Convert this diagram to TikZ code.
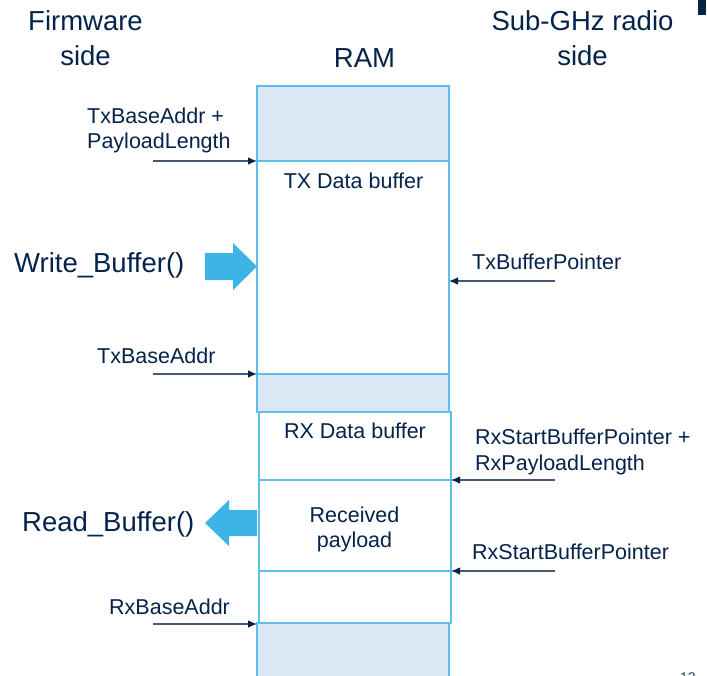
\documentclass[tikz,border=0pt]{standalone}
\usepackage{fontspec}
\setmainfont{Liberation Sans}
\usetikzlibrary{arrows.meta}
\definecolor{navy}{RGB}{3,35,75}
\definecolor{boxline}{RGB}{92,192,235}
\definecolor{boxfill}{RGB}{218,232,245}
\definecolor{bigarrow}{RGB}{60,181,230}
\definecolor{ptrline}{RGB}{70,88,115}
\tikzset{
  seg/.style={draw=boxline, line width=1.6pt, fill=white, anchor=north west,
    minimum width=192pt, outer sep=0pt, inner sep=0pt},
  shaded/.style={fill=boxfill},
  ptr/.style={draw=ptrline, line width=1.1pt,
    -{Latex[length=9pt,width=7.5pt,color=navy]}},
  lbl/.style={text=navy, inner sep=0pt, anchor=base west,
    font=\fontsize{21.5}{25}\selectfont},
  clbl/.style={lbl, anchor=base},
  head/.style={text=navy, inner sep=0pt, anchor=base,
    font=\fontsize{27.5}{33}\selectfont},
  big/.style={text=navy, inner sep=0pt, anchor=base west,
    font=\fontsize{27.5}{33}\selectfont},
  barrow/.style={fill=bigarrow}
}
\begin{document}
\begin{tikzpicture}[x=1pt,y=-1pt]
\useasboundingbox (0,0) rectangle (707,675);

% headers
\node[head] (fw1) at (85.5,30) {Firmware};
\node[head] (fw2) at (85.5,65) {side};
\node[head] (ram) at (364.5,67) {RAM};
\node[head] (sg1) at (582.5,30) {Sub-GHz radio};
\node[head] (sg2) at (582.5,65) {side};

% RAM column
\node[seg, shaded, minimum height=75pt] (topshade) at (257,86) {};
\node[seg, minimum height=213pt] (txbuf) at (257,161) {};
\node[seg, shaded, minimum height=38pt] (midshade) at (257,374) {};
\node[seg, shaded, minimum height=60pt] (botshade) at (257,623) {};
\node[seg, minimum height=68pt] (rxbuf) at (259,412) {};
\node[seg, minimum height=91pt] (payload) at (259,480) {};
\node[seg, minimum height=52pt] (rxfree) at (259,571) {};

% texts in column
\node[clbl] (txt) at (353.5,188) {TX Data buffer};
\node[clbl] (rxt) at (355,438) {RX Data buffer};
\node[clbl] (rp1) at (354.5,522) {Received};
\node[clbl] (rp2) at (354.5,547) {payload};

% left pointer labels
\node[lbl] (la1) at (87,123) {TxBaseAddr +};
\node[lbl] (la2) at (87,148) {PayloadLength};
\node[lbl] (lb) at (97,363) {TxBaseAddr};
\node[lbl] (lc) at (109,614) {RxBaseAddr};

% right pointer labels
\node[lbl] (ra) at (472,269.5) {TxBufferPointer};
\node[lbl] (rb1) at (475,444) {RxStartBufferPointer +};
\node[lbl] (rb2) at (475,470) {RxPayloadLength};
\node[lbl] (rc) at (472,559) {RxStartBufferPointer};

% left pointers
\coordinate (pA) at (153,161);
\coordinate (pB) at (153,374);
\coordinate (pC) at (153,624);
\draw[ptr] (pA) -- (topshade.south west);
\draw[ptr] (pB) -- (txbuf.south west);
\draw[ptr] (pC) -- (pC -| botshade.west);

% right pointers
\coordinate (qA) at (555,281);
\coordinate (qB) at (555,480);
\coordinate (qC) at (555,571);
\draw[ptr] (qA) -- (qA -| txbuf.east);
\draw[ptr] (qB) -- (rxbuf.south east);
\draw[ptr] (qC) -- (payload.south east);

% big arrows
\node[big] (wb) at (14,272) {Write\_Buffer()};
\node[big] (rdb) at (22,531) {Read\_Buffer()};
\fill[barrow] (205,253) -- (233,253) -- (233,243) -- (257,266.5)
  -- (233,290) -- (233,280) -- (205,280) -- cycle;
\fill[barrow] (257,510) -- (229,510) -- (229,500) -- (205,523)
  -- (229,546) -- (229,536) -- (257,536) -- cycle;

% slide decorations
\fill[navy] (698,0) rectangle (706,15);
\node[text=navy!70!gray, inner sep=0pt, anchor=base west,
  font=\fontsize{14}{16}\selectfont] (pg) at (680,682) {12};
\end{tikzpicture}
\end{document}
